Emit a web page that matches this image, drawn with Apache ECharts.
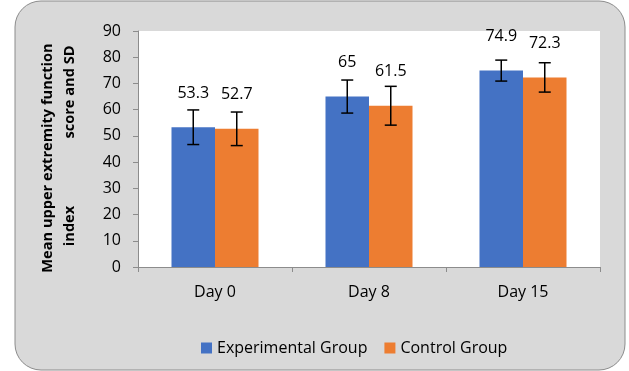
<!DOCTYPE html>
<html>
<head>
<meta charset="utf-8">
<script src="https://cdn.jsdelivr.net/npm/echarts@6/dist/echarts.min.js"></script>
<style>
  html, body { margin: 0; padding: 0; background: #fff; }
  #chart { width: 629px; height: 371px; }
</style>
</head>
<body>
<div id="chart"></div>
<script>
var days = ['Day 0', 'Day 8', 'Day 15'];
var expMean = [53.3, 65, 74.9];
var ctrlMean = [52.7, 61.5, 72.3];
var expSD = [6.6, 6.3, 4.0];
var ctrlSD = [6.4, 7.4, 5.6];
var yTicks = [0, 10, 20, 30, 40, 50, 60, 70, 80, 90];

document.addEventListener('DOMContentLoaded', function () {
    var myChart = echarts.init(document.getElementById('chart'));
    var font = '"Open Sans", sans-serif';
    var titleFont = 'bold 14.6px "Open Sans", sans-serif';
    var gap = 0.435;

    function errData(means, sds) {
        return means.map(function (m, i) {
            return [i, m - sds[i], m + sds[i]];
        });
    }

    // side: -1 for first bar in the group, +1 for the second
    function errorBars(side) {
        return function (params, api) {
            var i = api.value(0);
            var lo = api.coord([i, api.value(1)]);
            var hi = api.coord([i, api.value(2)]);
            var band = api.size([1, 0])[0];
            var barW = band * (1 - gap) / 2;
            var x = lo[0] + side * barW / 2;
            var cap = 6;
            var style = { stroke: '#000', lineWidth: 1.5 };
            return {
                type: 'group',
                children: [
                    { type: 'line', shape: { x1: x, y1: hi[1], x2: x, y2: lo[1] }, style: style },
                    { type: 'line', shape: { x1: x - cap, y1: hi[1], x2: x + cap, y2: hi[1] }, style: style },
                    { type: 'line', shape: { x1: x - cap, y1: lo[1], x2: x + cap, y2: lo[1] }, style: style }
                ]
            };
        };
    }

    var labelStyle = {
        show: true,
        position: 'top',
        distance: 26,
        color: '#000',
        fontSize: 16,
        fontFamily: font
    };

    var option = {
        animation: false,
        backgroundColor: '#fff',
        textStyle: { fontFamily: font },
        graphic: [
            {
                type: 'rect',
                z: -10,
                shape: { x: 15, y: 1, width: 610, height: 369, r: 26 },
                style: { fill: '#d9d9d9', stroke: '#8c8c8c', lineWidth: 1 }
            },
            {
                type: 'text',
                x: 48, y: 158,
                rotation: Math.PI / 2,
                style: {
                    text: 'Mean upper extremity function',
                    font: titleFont,
                    fill: '#000', align: 'center', verticalAlign: 'middle'
                }
            },
            {
                type: 'text',
                x: 70, y: 92,
                rotation: Math.PI / 2,
                style: {
                    text: 'score and SD',
                    font: titleFont,
                    fill: '#000', align: 'center', verticalAlign: 'middle'
                }
            },
            {
                type: 'text',
                x: 70, y: 226,
                rotation: Math.PI / 2,
                style: {
                    text: 'index',
                    font: titleFont,
                    fill: '#000', align: 'center', verticalAlign: 'middle'
                }
            }
        ],
        grid: {
            left: 138, right: 29, top: 31, bottom: 104,
            show: true, backgroundColor: '#fff', borderWidth: 0
        },
        legend: {
            bottom: 10,
            left: 196,
            itemWidth: 11,
            itemHeight: 11,
            itemGap: 17,
            icon: 'rect',
            textStyle: { fontSize: 16, color: '#000', fontFamily: font },
            data: ['Experimental Group', 'Control Group']
        },
        xAxis: {
            type: 'category',
            data: days,
            axisLine: { lineStyle: { color: '#8c8c8c', width: 1 } },
            axisTick: { show: true, length: 5, lineStyle: { color: '#8c8c8c' } },
            axisLabel: { color: '#000', fontSize: 16, margin: 17, fontFamily: font }
        },
        yAxis: {
            type: 'value',
            min: yTicks[0],
            max: yTicks[yTicks.length - 1],
            interval: 10,
            splitLine: { show: false },
            axisLine: { show: true, lineStyle: { color: '#8c8c8c', width: 1 } },
            axisTick: { show: true, length: 5, lineStyle: { color: '#8c8c8c' } },
            axisLabel: { color: '#000', fontSize: 16, margin: 17, fontFamily: font }
        },
        series: [
            {
                name: 'Experimental Group',
                type: 'bar',
                data: expMean,
                barGap: '0%',
                barCategoryGap: (gap * 100) + '%',
                itemStyle: { color: '#4472c4' },
                label: labelStyle
            },
            {
                name: 'Control Group',
                type: 'bar',
                data: ctrlMean,
                barGap: '0%',
                barCategoryGap: (gap * 100) + '%',
                itemStyle: { color: '#ed7d31' },
                label: labelStyle
            },
            {
                type: 'custom',
                renderItem: errorBars(-1),
                data: errData(expMean, expSD),
                encode: { x: 0, y: [1, 2] },
                z: 10
            },
            {
                type: 'custom',
                renderItem: errorBars(1),
                data: errData(ctrlMean, ctrlSD),
                encode: { x: 0, y: [1, 2] },
                z: 10
            }
        ]
    };

    option && myChart.setOption(option);
});
</script>
</body>
</html>
